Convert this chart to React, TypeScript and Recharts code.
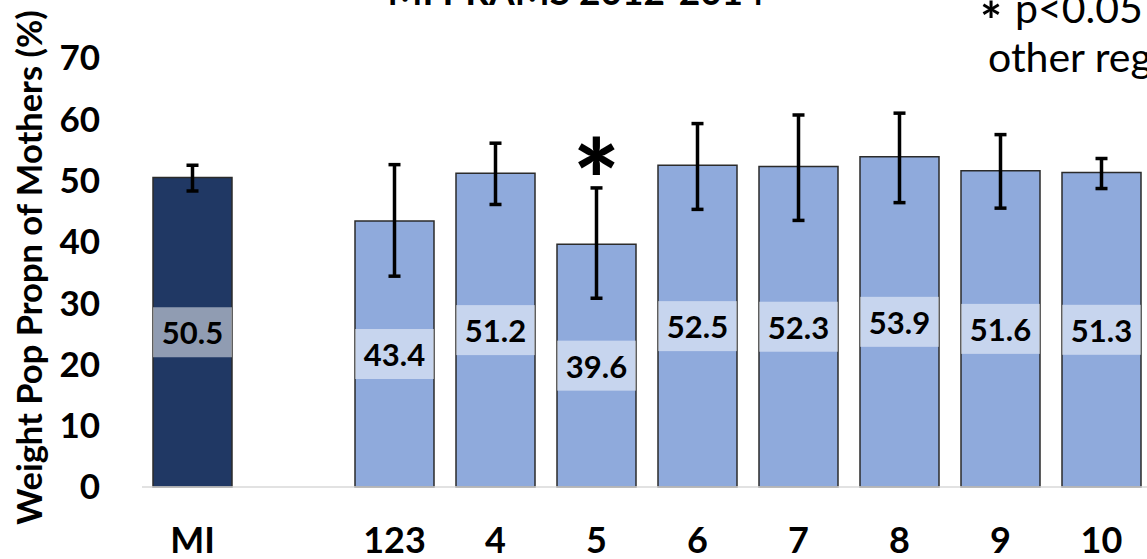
import React from 'react';
import { BarChart, Bar, XAxis, YAxis, ErrorBar, LabelList, Cell, ReferenceDot } from 'recharts';

const categories = ['MI', '', '123', '4', '5', '6', '7', '8', '9', '10'];
const values: (number | null)[] = [50.5, null, 43.4, 51.2, 39.6, 52.5, 52.3, 53.9, 51.6, 51.3];
const ciLow: (number | null)[] = [48.3, null, 34.4, 46.1, 30.8, 45.3, 43.5, 46.4, 45.5, 48.7];
const ciHigh: (number | null)[] = [52.5, null, 52.6, 56.1, 48.8, 59.3, 60.7, 61.0, 57.5, 53.6];
const significant = [false, false, false, false, true, false, false, false, false, false];
const yTicks = [0, 10, 20, 30, 40, 50, 60, 70];

const titleText = 'MI PRAMS 2012-2014';
const yAxisTitle = 'Weight Pop Propn of Mothers (%)';
const noteLine1 = 'p<0.05 vs';
const noteLine2 = 'other regions';

const STATE_COLOR = '#203864';
const REGION_COLOR = '#8FAADC';
const FONT = 'Lato, "Open Sans", sans-serif';

const data = categories.map((c, i) => ({
  region: c,
  value: values[i],
  err: values[i] == null ? null : [(values[i] as number) - (ciLow[i] as number), (ciHigh[i] as number) - (values[i] as number)],
}));

const renderValueLabel = (props: any) => {
  const { value } = props;
  if (value == null) return null;
  const x = Number(props.x);
  const y = Number(props.y);
  const w = Number(props.width);
  const h = Number(props.height);
  const cy = y + h / 2;
  return (
    <g>
      <rect x={x} y={cy - 25} width={w} height={50} fill="#ffffff" fillOpacity={0.5} />
      <text
        x={x + w / 2}
        y={cy}
        textAnchor="middle"
        dominantBaseline="central"
        fontFamily={FONT}
        fontWeight={700}
        fontSize={31}
        fill="#000"
      >
        {Number(value).toFixed(1)}
      </text>
    </g>
  );
};

const renderAsterisk = (props: any) => {
  const vb = props.viewBox || {};
  const cx = Number(vb.x) + Number(vb.width || 0) / 2;
  const cy = Number(vb.y) + Number(vb.height || 0) / 2;
  return (
    <text x={cx} y={cy + 33} textAnchor="middle" fontFamily={FONT} fontWeight={900} fontSize={110} fill="#000">
      *
    </text>
  );
};

const renderYTitle = (props: any) => {
  const vb = props.viewBox || {};
  const x = 28;
  const y = Number(vb.y) + Number(vb.height) / 2 - 5;
  return (
    <text
      x={x}
      y={y}
      transform={`rotate(-90 ${x} ${y})`}
      textAnchor="middle"
      dominantBaseline="central"
      fontFamily={FONT}
      fontWeight={700}
      fontSize={34.5}
      fill="#000"
    >
      {yAxisTitle}
    </text>
  );
};

export default function App() {
  return (
    <div style={{ position: 'absolute', left: 0, top: 0, width: 1147, height: 559, overflow: 'hidden', background: '#fff' }}>
      <BarChart
        width={1160}
        height={559}
        data={data}
        margin={{ top: 58, right: 8, bottom: 0, left: 0 }}
        barSize={79}
      >
        <XAxis
          dataKey="region"
          interval={0}
          tickLine={false}
          tickSize={0}
          tickMargin={40}
          height={72}
          axisLine={{ stroke: '#D9D9D9', strokeWidth: 1.5 }}
          tick={{ fontFamily: FONT, fontWeight: 700, fontSize: 36, fill: '#000' }}
        />
        <YAxis
          domain={[0, 70]}
          ticks={yTicks}
          width={142}
          tickLine={false}
          axisLine={false}
          tickSize={0}
          tickMargin={42}
          tick={{ fontFamily: FONT, fontWeight: 700, fontSize: 35, fill: '#000' }}
          label={{ content: renderYTitle }}
        />
        <Bar dataKey="value" stroke="#2b2b2b" strokeWidth={1.5} isAnimationActive={false}>
          {data.map((d, i) => (
            <Cell key={i} fill={d.region === 'MI' ? STATE_COLOR : REGION_COLOR} />
          ))}
          <LabelList dataKey="value" content={renderValueLabel} />
          <ErrorBar dataKey="err" width={6} strokeWidth={3.5} stroke="#000" direction="y" isAnimationActive={false} />
        </Bar>
        {categories.map((c, i) =>
          significant[i] ? (
            <ReferenceDot
              key={'sig' + i}
              x={c}
              y={ciHigh[i] as number}
              r={0}
              fill="none"
              stroke="none"
              label={renderAsterisk}
            />
          ) : null
        )}
      </BarChart>
      <svg width={1147} height={559} style={{ position: 'absolute', left: 0, top: 0, pointerEvents: 'none' }}>
        <text x={576} y={5} textAnchor="middle" fontFamily={FONT} fontWeight={700} fontSize={37} fill="#000">
          {titleText}
        </text>
        <text x={991} y={40} textAnchor="middle" fontFamily={FONT} fontWeight={700} fontSize={52} fill="#000">
          *
        </text>
        <text x={1015} y={23} fontFamily={FONT} fontWeight={400} fontSize={41} fill="#000">
          {noteLine1}
        </text>
        <text x={988} y={72} fontFamily={FONT} fontWeight={400} fontSize={41} fill="#000">
          {noteLine2}
        </text>
      </svg>
    </div>
  );
}
